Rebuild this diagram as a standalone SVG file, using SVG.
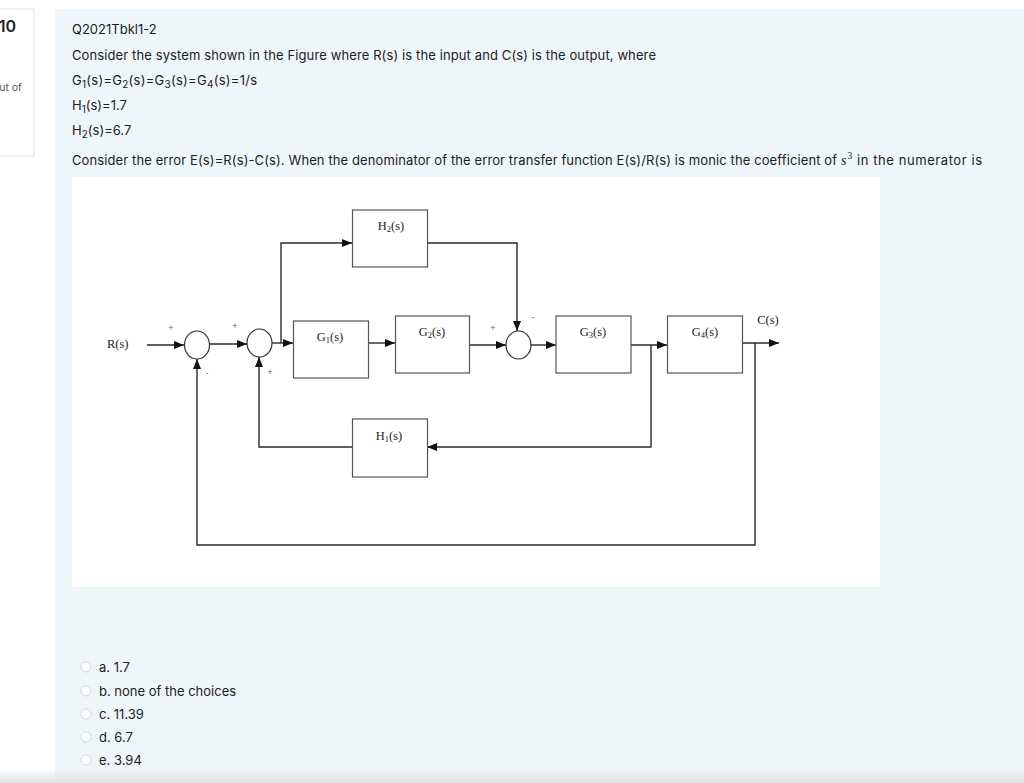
<svg xmlns="http://www.w3.org/2000/svg" width="1024" height="783" viewBox="0 0 1024 783">
<defs>
<style>
.ui{font-family:Inter,"Noto Sans","Liberation Sans",sans-serif;font-size:13px;fill:#1d2125}
.tm{font-family:"Liberation Serif","DejaVu Serif",serif;fill:#222;font-size:12.5px}
.sgn{font-family:"Liberation Sans",sans-serif;font-size:9px;fill:#666;text-anchor:middle}
.box{fill:#fff;stroke:#555;stroke-width:1.2}
.sum{fill:#fff;stroke:#333;stroke-width:1.2}
.wire{fill:none;stroke:#2a2a2a;stroke-width:1.4}
.radio{fill:#fff;stroke:#d3d6d9;stroke-width:1}
</style>
<marker id="ah" viewBox="0 0 10 8" refX="10" refY="4" markerWidth="10" markerHeight="8" orient="auto" markerUnits="userSpaceOnUse"><path d="M0,0 L10,4 L0,8 z" fill="#111"/></marker>
<linearGradient id="fade" x1="0" y1="0" x2="0" y2="1"><stop offset="0" stop-color="#dfe3e6" stop-opacity="0"/><stop offset="1" stop-color="#dfe3e6" stop-opacity="1"/></linearGradient>
</defs>
<rect x="0" y="0" width="1024" height="783" fill="#fff"/>
<g id="info-box">
<rect x="-2" y="9" width="36" height="147" fill="#fff" stroke="#dcdfe2" stroke-width="1"/>
<text x="16" y="32" text-anchor="end" style="font-family:Inter,'Liberation Sans',sans-serif;font-size:16px;font-weight:600;fill:#1d2125">10</text>
<text x="22" y="91" text-anchor="end" style="font-family:Inter,'Liberation Sans',sans-serif;font-size:10.5px;fill:#555">ut of</text>
</g>
<g id="panel">
<rect x="55" y="9" width="969" height="774" fill="#eff6f9"/>
<text class="ui" x="72" y="34">Q2021Tbkl1-2</text>
<text class="ui" x="72" y="60" textLength="584" lengthAdjust="spacing">Consider the system shown in the Figure where R(s) is the input and C(s) is the output, where</text>
<text class="ui" x="72" y="85" textLength="185" lengthAdjust="spacing">G<tspan font-size="10" dy="3">1</tspan><tspan dy="-3">(s)=G</tspan><tspan font-size="10" dy="3">2</tspan><tspan dy="-3">(s)=G</tspan><tspan font-size="10" dy="3">3</tspan><tspan dy="-3">(s)=G</tspan><tspan font-size="10" dy="3">4</tspan><tspan dy="-3">(s)=1/s</tspan></text>
<text class="ui" x="72" y="110">H<tspan font-size="10" dy="3">1</tspan><tspan dy="-3">(s)=1.7</tspan></text>
<text class="ui" x="72" y="135">H<tspan font-size="10" dy="3">2</tspan><tspan dy="-3">(s)=6.7</tspan></text>
<text class="ui" x="72" y="165" textLength="765" lengthAdjust="spacing">Consider the error E(s)=R(s)-C(s).  When the denominator of the error transfer function E(s)/R(s) is monic the coefficient of</text>
<text x="841" y="165" style="font-family:'Liberation Serif',serif;font-style:italic;font-size:14px;fill:#1d2125">s</text>
<text x="847.5" y="159" style="font-family:'Liberation Serif',serif;font-size:9.5px;fill:#1d2125">3</text>
<text class="ui" x="857" y="165" textLength="125" lengthAdjust="spacing">in the numerator is</text>
<rect x="72" y="177" width="808" height="410" fill="#fff"/>
</g>
<g id="connectors">
<path class="wire" d="M147,345 H184" marker-end="url(#ah)"/>
<path class="wire" d="M209,344 H247" marker-end="url(#ah)"/>
<path class="wire" d="M272,343 H293" marker-end="url(#ah)"/>
<path class="wire" d="M281,343 V243 H352" marker-end="url(#ah)"/>
<path class="wire" d="M368,343 H395" marker-end="url(#ah)"/>
<path class="wire" d="M427,243 H517 V331" marker-end="url(#ah)"/>
<path class="wire" d="M469,345 H506" marker-end="url(#ah)"/>
<path class="wire" d="M531,345 H556" marker-end="url(#ah)"/>
<path class="wire" d="M631,345 H667" marker-end="url(#ah)"/>
<path class="wire" d="M651,345 V447 H427" marker-end="url(#ah)"/>
<path class="wire" d="M352,447 H259 V357" marker-end="url(#ah)"/>
<path class="wire" d="M742,343 H779" marker-end="url(#ah)"/>
<path class="wire" d="M755,343 V545 H197 V359" marker-end="url(#ah)"/>
</g>
<g id="label-R"><text class="tm" x="107" y="348" font-size="9.5px">R(s)</text></g>
<g id="label-C"><text class="tm" x="768" y="324" text-anchor="middle">C(s)</text></g>
<g id="sum1">
<ellipse class="sum" cx="197" cy="345" rx="12.5" ry="14"/>
<text class="sgn" x="171" y="331">+</text>
<text class="sgn" x="207" y="376">-</text>
</g>
<g id="sum2">
<ellipse class="sum" cx="259.5" cy="343" rx="12.5" ry="14"/>
<text class="sgn" x="235" y="329">+</text>
<text class="sgn" x="270" y="375">+</text>
</g>
<g id="sum3">
<ellipse class="sum" cx="518.5" cy="345" rx="12.5" ry="14"/>
<text class="sgn" x="493" y="331">+</text>
<text class="sgn" x="533" y="320">-</text>
</g>
<g id="H2">
<rect class="box" x="352.5" y="210" width="75" height="57"/>
<text class="tm" x="391" y="230" text-anchor="middle">H<tspan font-size="8.5px" dy="2">2</tspan><tspan dy="-2">(s)</tspan></text>
</g>
<g id="G1">
<rect class="box" x="293.5" y="321" width="75" height="57"/>
<text class="tm" x="330" y="341" text-anchor="middle">G<tspan font-size="8.5px" dy="2">1</tspan><tspan dy="-2">(s)</tspan></text>
</g>
<g id="G2">
<rect class="box" x="395.5" y="316" width="74" height="57"/>
<text class="tm" x="432" y="336" text-anchor="middle">G<tspan font-size="8.5px" dy="2">2</tspan><tspan dy="-2">(s)</tspan></text>
</g>
<g id="G3">
<rect class="box" x="556" y="316" width="75" height="57"/>
<text class="tm" x="593" y="336" text-anchor="middle">G<tspan font-size="8.5px" dy="2">3</tspan><tspan dy="-2">(s)</tspan></text>
</g>
<g id="G4">
<rect class="box" x="667.5" y="316" width="75" height="57"/>
<text class="tm" x="705" y="336" text-anchor="middle">G<tspan font-size="8.5px" dy="2">4</tspan><tspan dy="-2">(s)</tspan></text>
</g>
<g id="H1">
<rect class="box" x="352.5" y="419" width="75" height="58"/>
<text class="tm" x="389" y="440" text-anchor="middle">H<tspan font-size="8.5px" dy="2">1</tspan><tspan dy="-2">(s)</tspan></text>
</g>
<g id="options">
<circle class="radio" cx="86" cy="667" r="5"/><text class="ui" x="99" y="672">a. 1.7</text>
<circle class="radio" cx="86" cy="691" r="5"/><text class="ui" x="99" y="696">b. none of the choices</text>
<circle class="radio" cx="86" cy="714" r="5"/><text class="ui" x="99" y="719">c. 11.39</text>
<circle class="radio" cx="86" cy="737" r="5"/><text class="ui" x="99" y="742">d. 6.7</text>
<circle class="radio" cx="86" cy="760" r="5"/><text class="ui" x="99" y="765">e. 3.94</text>
</g>
<rect x="0" y="768" width="1024" height="15" fill="url(#fade)"/>
</svg>
